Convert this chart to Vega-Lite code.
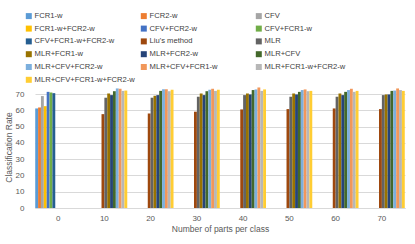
{
  "$schema": "https://vega.github.io/schema/vega-lite/v6.json",
  "autosize": "none",
  "width": 370,
  "height": 122,
  "padding": {"left": 35, "top": 86, "right": 10, "bottom": 36},
  "background": "white",
  "config": {
    "view": {"stroke": null},
    "font": "Liberation Sans",
    "axis": {"labelFont": "Liberation Sans", "titleFont": "Liberation Sans", "labelColor": "#595959", "titleColor": "#595959", "labelFontSize": 8, "titleFontSize": 8.5, "titleFontWeight": "normal"},
    "legend": {"labelFont": "Liberation Sans", "labelColor": "#404040", "labelFontSize": 7.6}
  },
  "data": {
    "values": [
      {"x": 0, "s": "FCR1-w", "v": 61.2},
      {"x": 0, "s": "FCR2-w", "v": 61.8},
      {"x": 0, "s": "CFV", "v": 68.8},
      {"x": 0, "s": "FCR1-w+FCR2-w", "v": 62.6},
      {"x": 0, "s": "CFV+FCR2-w", "v": 71.4},
      {"x": 0, "s": "CFV+FCR1-w", "v": 71.0},
      {"x": 0, "s": "CFV+FCR1-w+FCR2-w", "v": 70.6},

      {"x": 10, "s": "Liu's method", "v": 57.7},
      {"x": 10, "s": "MLR", "v": 67.8},
      {"x": 10, "s": "MLR+FCR1-w", "v": 70.4},
      {"x": 10, "s": "MLR+FCR2-w", "v": 69.4},
      {"x": 10, "s": "MLR+CFV", "v": 71.8},
      {"x": 10, "s": "MLR+CFV+FCR2-w", "v": 73.5},
      {"x": 10, "s": "MLR+CFV+FCR1-w", "v": 73.3},
      {"x": 10, "s": "MLR+FCR1-w+FCR2-w", "v": 72.0},
      {"x": 10, "s": "MLR+CFV+FCR1-w+FCR2-w", "v": 72.2},

      {"x": 20, "s": "Liu's method", "v": 58.1},
      {"x": 20, "s": "MLR", "v": 67.8},
      {"x": 20, "s": "MLR+FCR1-w", "v": 69.0},
      {"x": 20, "s": "MLR+FCR2-w", "v": 69.4},
      {"x": 20, "s": "MLR+CFV", "v": 72.0},
      {"x": 20, "s": "MLR+CFV+FCR2-w", "v": 73.0},
      {"x": 20, "s": "MLR+CFV+FCR1-w", "v": 73.0},
      {"x": 20, "s": "MLR+FCR1-w+FCR2-w", "v": 71.8},
      {"x": 20, "s": "MLR+CFV+FCR1-w+FCR2-w", "v": 72.7},

      {"x": 30, "s": "Liu's method", "v": 59.2},
      {"x": 30, "s": "MLR", "v": 68.4},
      {"x": 30, "s": "MLR+FCR1-w", "v": 70.4},
      {"x": 30, "s": "MLR+FCR2-w", "v": 69.4},
      {"x": 30, "s": "MLR+CFV", "v": 71.8},
      {"x": 30, "s": "MLR+CFV+FCR2-w", "v": 72.7},
      {"x": 30, "s": "MLR+CFV+FCR1-w", "v": 73.3},
      {"x": 30, "s": "MLR+FCR1-w+FCR2-w", "v": 72.0},
      {"x": 30, "s": "MLR+CFV+FCR1-w+FCR2-w", "v": 72.7},

      {"x": 40, "s": "Liu's method", "v": 60.6},
      {"x": 40, "s": "MLR", "v": 69.4},
      {"x": 40, "s": "MLR+FCR1-w", "v": 70.4},
      {"x": 40, "s": "MLR+FCR2-w", "v": 69.8},
      {"x": 40, "s": "MLR+CFV", "v": 72.5},
      {"x": 40, "s": "MLR+CFV+FCR2-w", "v": 72.9},
      {"x": 40, "s": "MLR+CFV+FCR1-w", "v": 74.1},
      {"x": 40, "s": "MLR+FCR1-w+FCR2-w", "v": 72.0},
      {"x": 40, "s": "MLR+CFV+FCR1-w+FCR2-w", "v": 72.9},

      {"x": 50, "s": "Liu's method", "v": 60.8},
      {"x": 50, "s": "MLR", "v": 68.4},
      {"x": 50, "s": "MLR+FCR1-w", "v": 70.4},
      {"x": 50, "s": "MLR+FCR2-w", "v": 69.8},
      {"x": 50, "s": "MLR+CFV", "v": 71.4},
      {"x": 50, "s": "MLR+CFV+FCR2-w", "v": 72.5},
      {"x": 50, "s": "MLR+CFV+FCR1-w", "v": 72.9},
      {"x": 50, "s": "MLR+FCR1-w+FCR2-w", "v": 71.8},
      {"x": 50, "s": "MLR+CFV+FCR1-w+FCR2-w", "v": 72.0},

      {"x": 60, "s": "Liu's method", "v": 61.2},
      {"x": 60, "s": "MLR", "v": 68.4},
      {"x": 60, "s": "MLR+FCR1-w", "v": 70.4},
      {"x": 60, "s": "MLR+FCR2-w", "v": 69.4},
      {"x": 60, "s": "MLR+CFV", "v": 71.4},
      {"x": 60, "s": "MLR+CFV+FCR2-w", "v": 72.5},
      {"x": 60, "s": "MLR+CFV+FCR1-w", "v": 73.3},
      {"x": 60, "s": "MLR+FCR1-w+FCR2-w", "v": 71.4},
      {"x": 60, "s": "MLR+CFV+FCR1-w+FCR2-w", "v": 72.0},

      {"x": 70, "s": "Liu's method", "v": 60.8},
      {"x": 70, "s": "MLR", "v": 69.4},
      {"x": 70, "s": "MLR+FCR1-w", "v": 69.8},
      {"x": 70, "s": "MLR+FCR2-w", "v": 69.8},
      {"x": 70, "s": "MLR+CFV", "v": 72.0},
      {"x": 70, "s": "MLR+CFV+FCR2-w", "v": 72.2},
      {"x": 70, "s": "MLR+CFV+FCR1-w", "v": 73.5},
      {"x": 70, "s": "MLR+FCR1-w+FCR2-w", "v": 72.5},
      {"x": 70, "s": "MLR+CFV+FCR1-w+FCR2-w", "v": 72.0}
    ]
  },
  "mark": {"type": "bar"},
  "encoding": {
    "x": {
      "field": "x", "type": "ordinal",
      "scale": {"paddingInner": 0.01, "paddingOuter": 0.005},
      "axis": {"title": "Number of parts per class", "labelAngle": 0, "ticks": false, "domainColor": "#d9d9d9", "labelPadding": 6, "titlePadding": 2}
    },
    "xOffset": {
      "field": "s", "type": "nominal",
      "scale": {"domain": ["FCR1-w", "FCR2-w", "CFV", "FCR1-w+FCR2-w", "CFV+FCR2-w", "CFV+FCR1-w", "CFV+FCR1-w+FCR2-w", "Liu's method", "MLR", "MLR+FCR1-w", "MLR+FCR2-w", "MLR+CFV", "MLR+CFV+FCR2-w", "MLR+CFV+FCR1-w", "MLR+FCR1-w+FCR2-w", "MLR+CFV+FCR1-w+FCR2-w"], "paddingInner": 0, "paddingOuter": 0}
    },
    "y": {
      "field": "v", "type": "quantitative",
      "scale": {"domain": [0, 75], "nice": false},
      "axis": {"title": "Classification Rate", "values": [0, 10, 20, 30, 40, 50, 60, 70], "domain": false, "ticks": false, "gridColor": "#d9d9d9", "labelPadding": 11, "titlePadding": 2}
    },
    "color": {
      "field": "s", "type": "nominal",
      "scale": {
        "domain": ["FCR1-w", "FCR2-w", "CFV", "FCR1-w+FCR2-w", "CFV+FCR2-w", "CFV+FCR1-w", "CFV+FCR1-w+FCR2-w", "Liu's method", "MLR", "MLR+FCR1-w", "MLR+FCR2-w", "MLR+CFV", "MLR+CFV+FCR2-w", "MLR+CFV+FCR1-w", "MLR+FCR1-w+FCR2-w", "MLR+CFV+FCR1-w+FCR2-w"],
        "range": ["#5B9BD5", "#ED7D31", "#A5A5A5", "#FFC000", "#4472C4", "#70AD47", "#255E91", "#9E480E", "#636363", "#997300", "#264478", "#43682B", "#7CAFDD", "#F1975A", "#B7B7B7", "#FFCD33"]
      },
      "legend": {
        "title": null, "orient": "none", "direction": "horizontal", "legendX": -10, "legendY": -74, "columns": 3, "gridAlign": "all",
        "symbolType": "square", "symbolSize": 36, "symbolStrokeWidth": 0, "labelOffset": 2, "rowPadding": 3.8, "columnPadding": 5, "padding": 0, "labelLimit": 200
      }
    }
  }
}
